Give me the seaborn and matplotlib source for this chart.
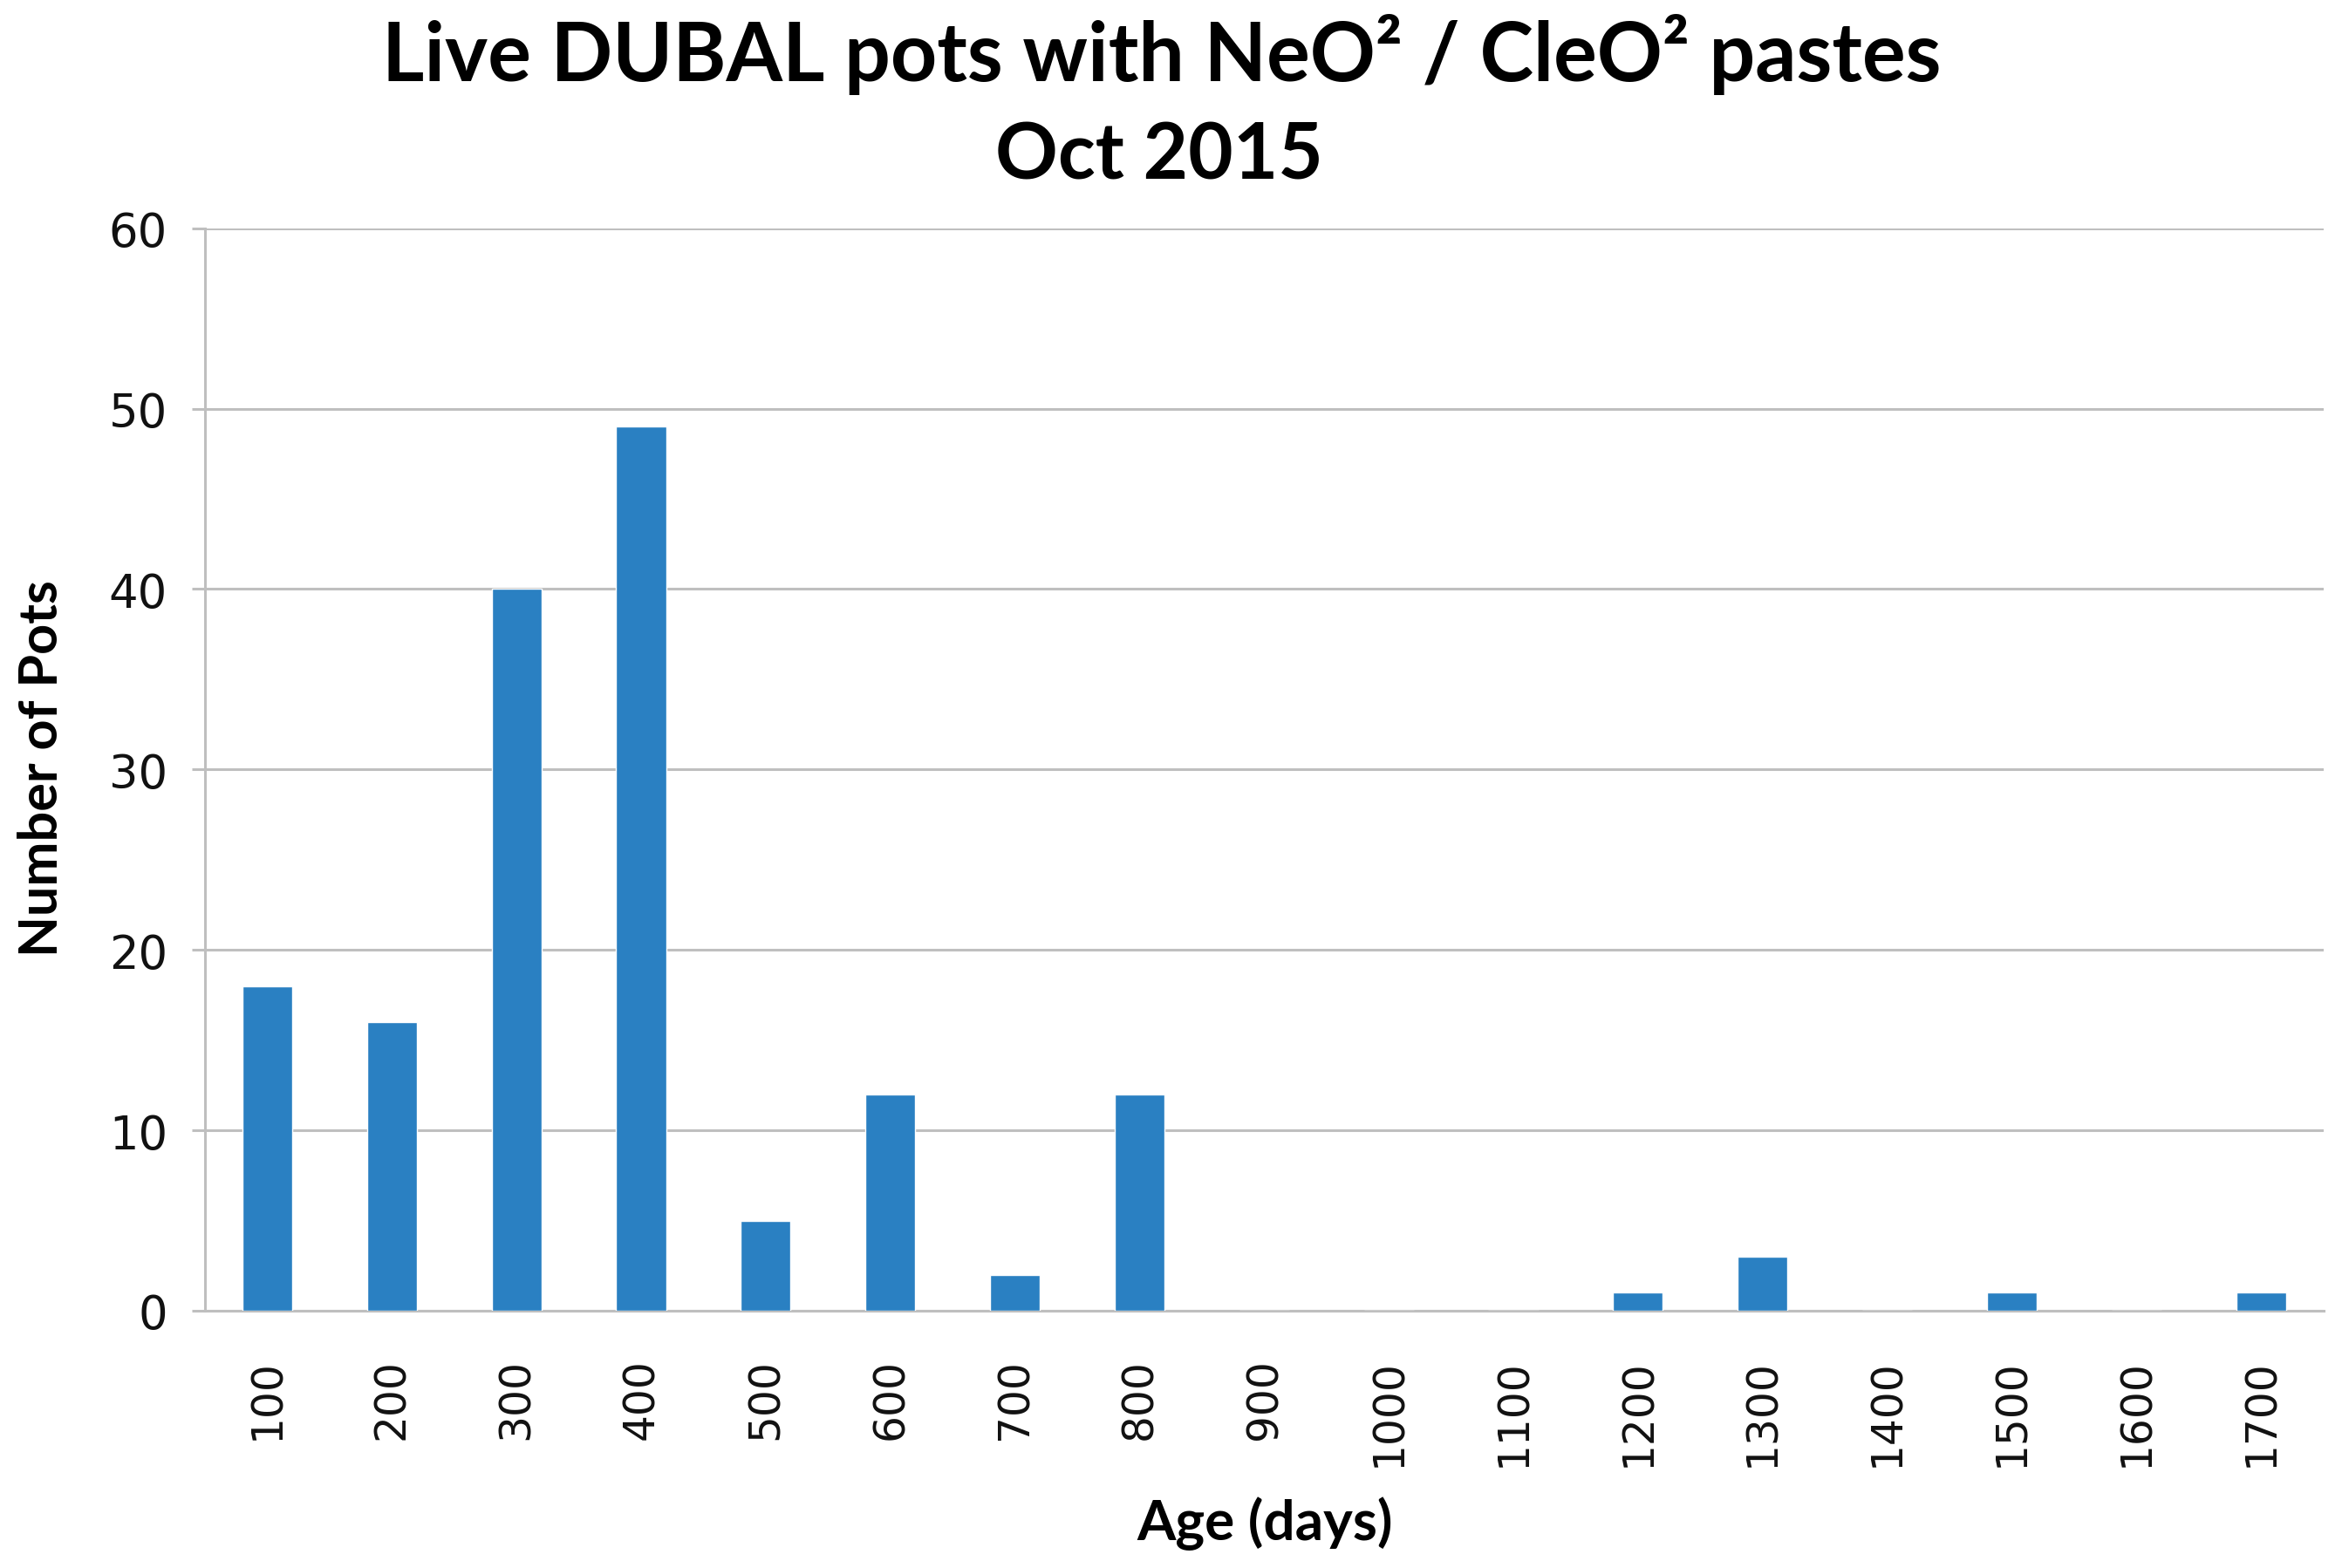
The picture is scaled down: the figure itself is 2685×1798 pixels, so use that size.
import numpy as np
import pandas as pd
import matplotlib
matplotlib.use('Agg')
import matplotlib.pyplot as plt
import seaborn as sns

# data
ages = ['100', '200', '300', '400', '500', '600', '700', '800', '900',
        '1000', '1100', '1200', '1300', '1400', '1500', '1600', '1700']
pots = [18, 16, 40, 49, 5, 12, 2, 12, 0, 0, 0, 1, 3, 0, 1, 0, 1]
y_ticks = [0, 10, 20, 30, 40, 50, 60]

bar_color = '#2A80C2'
grid_color = '#BFBFBF'

sns.set_theme(style='white')
plt.rcParams['font.family'] = ['DejaVu Sans']

df = pd.DataFrame({'age': ages, 'pots': pots})

fig = plt.figure(figsize=(26.85, 17.99), dpi=100)
ax = fig.add_axes([0.0875, 0.164, 0.9045, 0.690])

sns.barplot(data=df, x='age', y='pots', order=ages, color=bar_color,
            width=0.4, saturation=1, ax=ax, zorder=3)

ax.set_xlim(-0.5, len(ages) - 0.5)
ax.set_ylim(0, 60)
ax.set_yticks(y_ticks)
ax.yaxis.grid(True, color=grid_color, linewidth=2.2, zorder=0)
ax.set_axisbelow(True)

for side in ['top', 'right']:
    ax.spines[side].set_visible(False)
for side in ['left', 'bottom']:
    ax.spines[side].set_color(grid_color)
    ax.spines[side].set_linewidth(2.2)

ax.tick_params(axis='y', which='both', left=True, length=11, width=2.2,
               color=grid_color, pad=20, labelsize=38, labelcolor='#111111')
ax.tick_params(axis='x', which='both', bottom=False, pad=33, labelsize=35,
               labelcolor='#111111', labelrotation=90)

ax.set_xlabel('')
ax.set_ylabel('')

label_font = ['Lato', 'DejaVu Sans']
fig.text(0.018, 0.51, 'Number of Pots', rotation=90, ha='center', va='center',
         fontsize=44, fontweight='bold', family=label_font, color='black')
fig.text(0.540, 0.029, 'Age (days)', ha='center', va='center',
         fontsize=46, fontweight='bold', family=label_font, color='black')

fig.text(0.496, 0.965, 'Live DUBAL pots with NeO² / CleO² pastes',
         ha='center', va='center', fontsize=67, fontweight='bold',
         family=label_font, color='black')
fig.text(0.495, 0.900, 'Oct 2015', ha='center', va='center', fontsize=64,
         fontweight='bold', family=label_font, color='black')

fig.savefig('out.png', dpi=100, facecolor='white')
plt.close(fig)
